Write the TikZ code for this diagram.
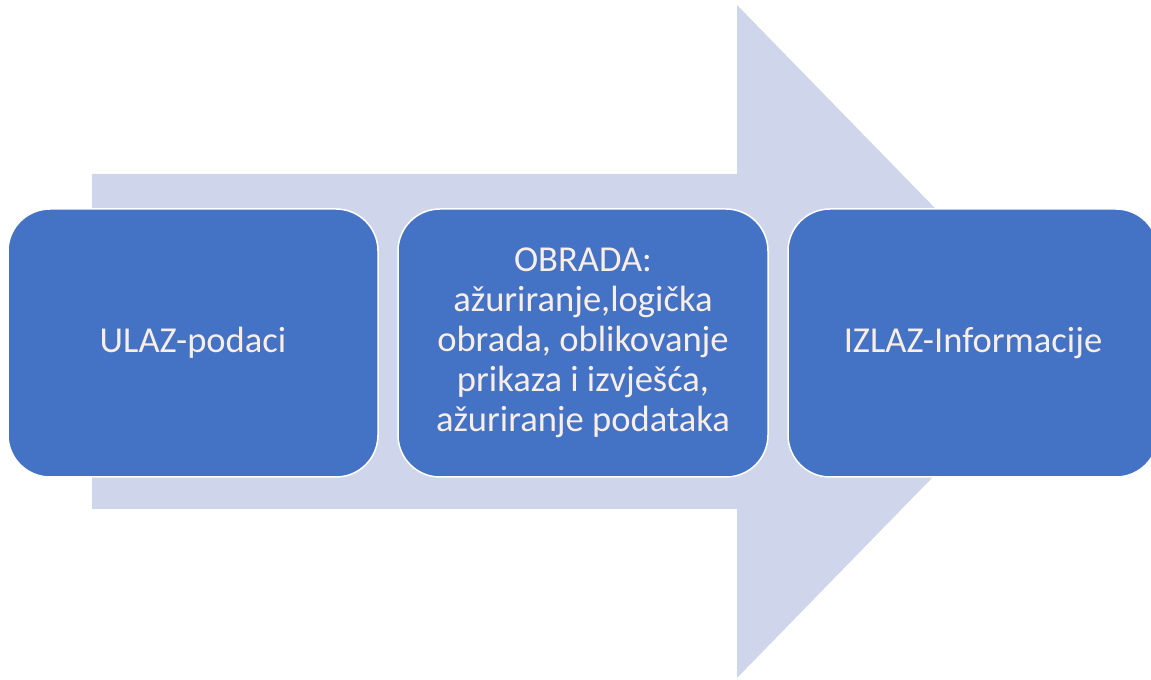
\documentclass[tikz,border=0pt]{standalone}
\usepackage{fontspec}
\setmainfont{Carlito}
\usepackage{tikz}
\usetikzlibrary{positioning}

\definecolor{boxblue}{HTML}{4472C4}
\definecolor{arrowblue}{HTML}{CFD5EA}
\definecolor{boxtext}{RGB}{248,238,230}

\tikzset{
  stage/.style={rectangle, rounded corners=0.84cm, fill=boxblue, draw=white,
    line width=0.03cm, minimum width=7.4cm, minimum height=5.36cm,
    align=center, text=boxtext, inner sep=0pt,
    font=\fontsize{20.8}{22.8}\selectfont}
}

\begin{document}
\begin{tikzpicture}
    \def\ymid{-6.83} \def\shaft{3.35} \def\neck{14.74}

    \useasboundingbox (0, 0) rectangle (23.02, -13.6);

    % velika strelica u pozadini
    \fill [arrowblue] (1.84, \ymid + \shaft) -- (\neck, \ymid + \shaft)
    -- (\neck, -0.1) -- (21.3, \ymid) -- (\neck, -13.56)
    -- (\neck, \ymid - \shaft) -- (1.84, \ymid - \shaft) -- cycle;

    \node [stage] (ulaz) at (3.86, -6.86) {ULAZ-podaci};

    \node [stage, right=0.37cm of ulaz] (obrada) {OBRADA:\\
      ažuriranje,logička\\ obrada, oblikovanje\\ prikaza i izvješća,\\
      ažuriranje podataka};

    \node [stage, right=0.37cm of obrada] (izlaz) {IZLAZ-Informacije};

  \end{tikzpicture}
\end{document}
